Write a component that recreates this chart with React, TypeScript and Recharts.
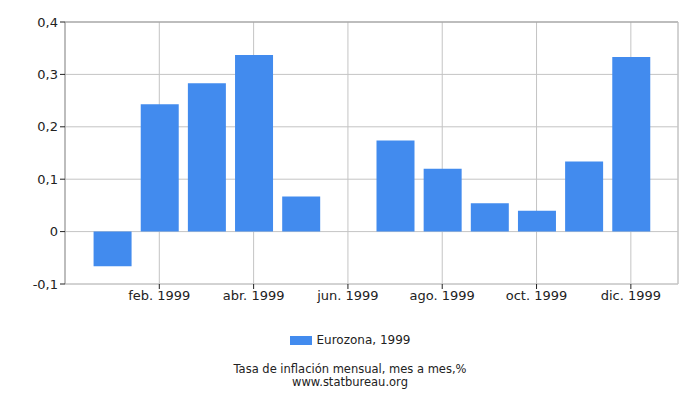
import React from "react";
import {
  BarChart,
  Bar,
  XAxis,
  YAxis,
  CartesianGrid,
  ReferenceLine,
} from "recharts";

// month index (1 = jan) and monthly inflation, %
const months = [1, 2, 3, 4, 5, 6, 7, 8, 9, 10, 11, 12];
const values = [
  -0.066, 0.243, 0.283, 0.337, 0.067, 0, 0.174, 0.12, 0.054, 0.04, 0.134,
  0.333,
];
const monthLabels = [
  "ene.", "feb.", "mar.", "abr.", "may.", "jun.",
  "jul.", "ago.", "sep.", "oct.", "nov.", "dic.",
];
const xTicks = [2, 4, 6, 8, 10, 12];
const yTicks = [-0.1, 0, 0.1, 0.2, 0.3, 0.4];
const seriesName = "Eurozona, 1999";

const data = months.map((m, i) => ({ month: m, value: values[i] }));

const FONT = "'DejaVu Sans', sans-serif";
const BAR = "#428bee";

export default function App() {
  return (
    <div
      style={{
        position: "absolute",
        left: 0,
        top: 0,
        width: 700,
        height: 400,
        background: "#fff",
        fontFamily: FONT,
      }}
    >
      <BarChart
        width={700}
        height={314}
        data={data}
        margin={{ top: 22, right: 22, left: 0, bottom: 0 }}
      >
        <CartesianGrid stroke="#c4c4c4" strokeWidth={1} />
        <XAxis
          dataKey="month"
          type="number"
          domain={[0, 13]}
          ticks={xTicks}
          height={30}
          tickFormatter={(v) => `${monthLabels[v - 1]} 1999`}
          tick={{ fill: "#222", fontSize: 13, fontFamily: FONT }}
          tickLine={{ stroke: "#222" }}
          tickSize={5}
          axisLine={{ stroke: "#c4c4c4" }}
          allowDecimals={false}
        />
        <YAxis
          type="number"
          domain={[-0.1, 0.4]}
          ticks={yTicks}
          width={65}
          tickFormatter={(v) => String(v).replace(".", ",")}
          tick={{ fill: "#222", fontSize: 13, fontFamily: FONT }}
          tickLine={{ stroke: "#222" }}
          tickSize={5}
          axisLine={{ stroke: "#999" }}
          allowDataOverflow
        />
        <ReferenceLine y={0.4} stroke="#999" />
        <ReferenceLine x={13} stroke="#c4c4c4" />
        <Bar
          dataKey="value"
          fill={BAR}
          barSize={38}
          isAnimationActive={false}
        />
      </BarChart>
      <div
        style={{
          position: "absolute",
          left: 0,
          top: 333,
          width: 700,
          display: "flex",
          justifyContent: "center",
          alignItems: "center",
          fontSize: 12,
          color: "#222",
        }}
      >
        <span
          style={{
            display: "inline-block",
            width: 22,
            height: 9,
            background: BAR,
            marginRight: 5,
          }}
        />
        {seriesName}
      </div>
      <div
        style={{
          position: "absolute",
          left: 0,
          top: 363,
          width: 700,
          textAlign: "center",
          fontSize: 11.5,
          lineHeight: "13px",
          color: "#222",
        }}
      >
        <div>Tasa de inflación mensual, mes a mes,%</div>
        <div>www.statbureau.org</div>
      </div>
    </div>
  );
}
